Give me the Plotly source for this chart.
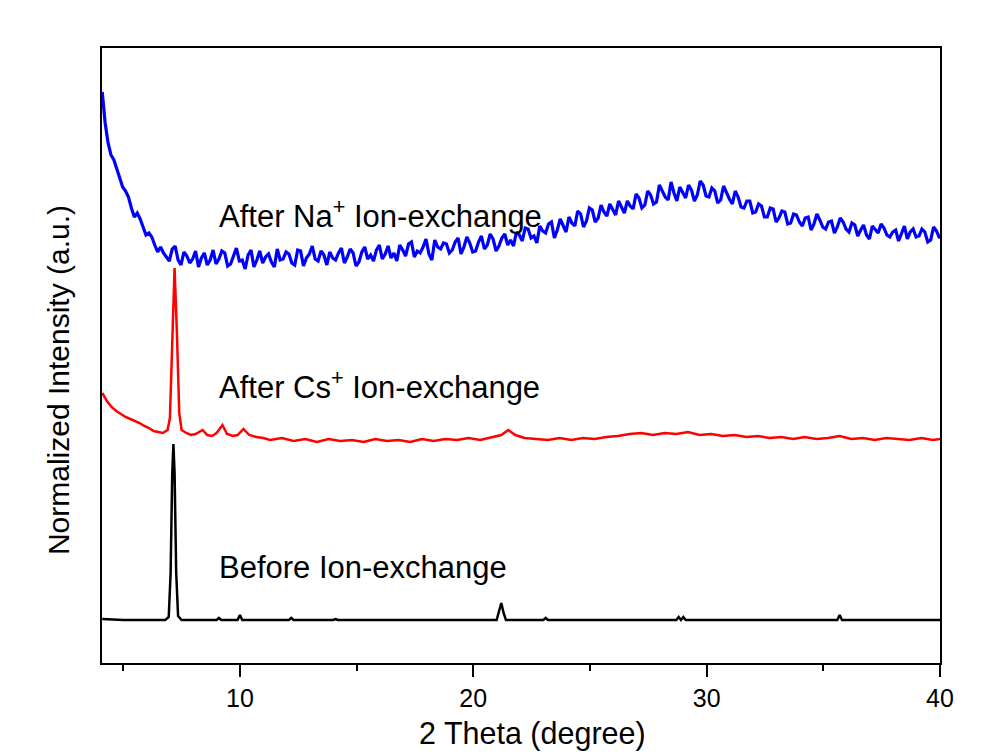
import numpy as np
import plotly.graph_objects as go

# ---------------- data ----------------
# Blue: After Na+ ion-exchange, read every 0.125 degree from 4.1
# (na_y at 4.1, 4.35, ...; na_y_mid at 4.225, 4.475, ...)
na_start, na_step = 4.1, 0.25
na_y = [571, 520, 503, 485, 472, 455, 450, 436, 430, 418,
        416, 406, 414, 403, 411, 400, 412, 405, 398, 413,
        404, 410, 399, 415, 403, 408, 396, 412, 406, 401,
        414, 404, 409, 398, 412, 405, 417, 402, 408, 411,
        403, 415, 406, 410, 401, 416, 408, 413, 404, 417,
        410, 418, 407, 421, 412, 416, 409, 423, 414, 419,
        413, 425, 416, 420, 412, 427, 418, 424, 417, 429,
        423, 431, 422, 434, 427, 437, 430, 441, 433, 438,
        446, 437, 449, 442, 453, 445, 451, 459, 448, 456,
        462, 454, 465, 458, 468, 461, 472, 463, 470, 476,
        465, 473, 468, 478, 466, 472, 463, 470, 459, 466,
        455, 462, 451, 457, 446, 454, 445, 451, 440, 448,
        437, 446, 439, 443, 434, 442, 436, 441, 431, 438,
        433, 428, 437, 430, 435, 426, 433, 429, 424, 434,
        427, 431, 423, 432, 429]
na_y_mid = [540, 508, 494, 476, 466, 446, 444, 428, 426, 411,
            410, 402, 417, 398, 407, 404, 396, 410, 403, 399,
            412, 397, 407, 402, 394, 413, 403, 400, 409, 396,
            403, 411, 400, 413, 397, 409, 404, 412, 398, 405,
            410, 400, 414, 397, 411, 404, 402, 418, 409, 405,
            402, 413, 419, 406, 410, 424, 403, 416, 420, 410,
            421, 409, 426, 411, 421, 414, 429, 412, 425, 418,
            417, 428, 435, 425, 420, 432, 439, 425, 444, 431,
            440, 452, 436, 455, 441, 458, 447, 453, 462, 450,
            457, 469, 455, 472, 459, 478, 466, 481, 462, 470,
            478, 462, 482, 467, 475, 460, 477, 464, 472, 456,
            462, 450, 459, 446, 455, 441, 452, 439, 449, 441,
            445, 433, 449, 436, 441, 430, 445, 434, 440, 427,
            438, 424, 433, 439, 428, 431, 422, 437, 431, 426,
            434, 421, 436, 425]

# Red: After Cs+ ion-exchange
cs_x = [4.1, 4.3, 4.5, 4.7, 4.9, 5.1, 5.3, 5.5, 5.7, 5.9, 6.1, 6.3, 6.5, 6.7, 6.9,
        7.0, 7.1, 7.2, 7.3, 7.4, 7.5, 7.7, 7.9, 8.1, 8.4, 8.6, 8.8, 9.0, 9.25, 9.45,
        9.7, 9.9, 10.15, 10.4, 10.7, 11.0,
        11.3, 11.8, 12.3, 12.8, 13.3, 13.8, 14.3, 14.8, 15.3, 15.8, 16.3, 16.8, 17.3,
        17.8, 18.3, 18.8, 19.3, 19.8, 20.3, 20.8, 21.2, 21.5, 21.8, 22.2, 22.7, 23.2,
        23.7, 24.2, 24.7, 25.2, 25.7, 26.2, 26.7, 27.2, 27.7, 28.2, 28.7, 29.2, 29.7,
        30.2, 30.7, 31.2, 31.7, 32.2, 32.7, 33.2, 33.7, 34.2, 34.7, 35.2, 35.7, 36.2,
        36.7, 37.2, 37.7, 38.2, 38.7, 39.2, 39.7, 40.0]
cs_y = [270, 262, 256, 252, 249, 246, 244, 242, 240, 237, 235, 232, 231, 230, 233,
        245, 320, 395, 330, 250, 233, 230, 228, 229, 233, 228, 227, 230, 238, 229,
        227, 228, 234, 228, 226, 225,
        223, 225, 222, 224, 221, 224, 222, 223, 221, 224, 222, 223, 221,
        224, 222, 224, 223, 225, 223, 226, 228, 233, 228, 225, 224, 223,
        225, 223, 225, 224, 226, 227, 229, 230, 228, 230, 229, 231, 228,
        229, 227, 228, 226, 227, 225, 226, 224, 226, 224, 225, 227, 224,
        225, 223, 225, 224, 223, 225, 223, 224]

# Black: Before ion-exchange
raw_x = [4.1, 5.0, 6.0, 6.8, 6.95, 7.03, 7.1, 7.15, 7.2, 7.27, 7.35, 7.5,
         9.0, 9.1, 9.2, 9.9, 10.0, 10.1, 12.1, 12.2, 12.3, 14.0, 14.1, 14.2,
         21.0, 21.1, 21.2, 21.3, 21.4, 23.0, 23.1, 23.2, 28.7, 28.8, 28.9,
         29.0, 29.1, 35.6, 35.7, 35.8, 40.0]
raw_y = [44, 43, 43, 43, 46, 90, 190, 219, 190, 90, 47, 43,
         43, 45, 43, 43, 48, 43, 43, 45, 43, 43, 44, 43,
         43, 52, 60, 50, 43, 43, 45, 43, 43, 46, 43,
         46, 43, 43, 48, 43, 43]

labels = ["After Na<sup>+</sup> Ion-exchange",
          "After Cs<sup>+</sup> Ion-exchange",
          "Before Ion-exchange"]
label_x = [9.0, 9.0, 9.0]
label_y = [449, 278, 96]

x_title = "2 Theta (degree)"
y_title = "Normalized Intensity (a.u.)"
x_ticks = [10, 20, 30, 40]
x_minor = [5, 15, 25, 35]

# ---------------- assemble blue series on its sampling grid ----------------
xa = np.round(na_start + na_step * np.arange(len(na_y)), 4)
xb = np.round(na_start + na_step / 2 + na_step * np.arange(len(na_y_mid)), 4)
na_x_all = np.concatenate([xa, xb])
na_y_all = np.concatenate([na_y, na_y_mid])
order = np.argsort(na_x_all)
na_x_all, na_y_all = na_x_all[order], na_y_all[order]

# ---------------- figure ----------------
FONT = "Liberation Sans, Arial, sans-serif"
fig = go.Figure()
fig.add_trace(go.Scatter(x=raw_x, y=raw_y, mode="lines",
                         line=dict(color="#000000", width=2.5), showlegend=False))
fig.add_trace(go.Scatter(x=cs_x, y=cs_y, mode="lines",
                         line=dict(color="#ff0000", width=2.5), showlegend=False))
fig.add_trace(go.Scatter(x=na_x_all, y=na_y_all, mode="lines",
                         line=dict(color="#0000ff", width=3.2), showlegend=False))

for t, lx, ly in zip(labels, label_x, label_y):
    fig.add_annotation(x=lx, y=ly, xref="x", yref="y", text=t, showarrow=False,
                       xanchor="left", yanchor="middle",
                       font=dict(family=FONT, size=31, color="#000000"))

# axis titles as paper annotations for exact placement
fig.add_annotation(x=0.514, y=-0.114, xref="paper", yref="paper", text=x_title,
                   showarrow=False, xanchor="center", yanchor="middle",
                   font=dict(family=FONT, size=30.5, color="black"))
fig.add_annotation(x=-0.0525, y=0.46, xref="paper", yref="paper", text=y_title,
                   showarrow=False, xanchor="center", yanchor="middle", textangle=-90,
                   font=dict(family=FONT, size=30, color="black"))

fig.update_layout(
    width=981, height=756,
    margin=dict(l=102, r=41, t=48, b=93),
    paper_bgcolor="white", plot_bgcolor="white",
    font=dict(family=FONT, color="#000000"),
)
fig.update_xaxes(
    range=[4.09, 40], tickmode="array", tickvals=x_ticks,
    ticks="outside", ticklen=12, tickwidth=2, tickcolor="black",
    minor=dict(tickvals=x_minor, ticks="outside", ticklen=6,
               tickwidth=2, tickcolor="black"),
    showline=True, linecolor="black", linewidth=2, mirror=True,
    showgrid=False, zeroline=False,
    tickfont=dict(family=FONT, size=25, color="black"),
)
fig.update_yaxes(
    range=[0, 615], showticklabels=False, ticks="",
    showline=True, linecolor="black", linewidth=2, mirror=True,
    showgrid=False, zeroline=False,
)

fig.write_html("out.html")
